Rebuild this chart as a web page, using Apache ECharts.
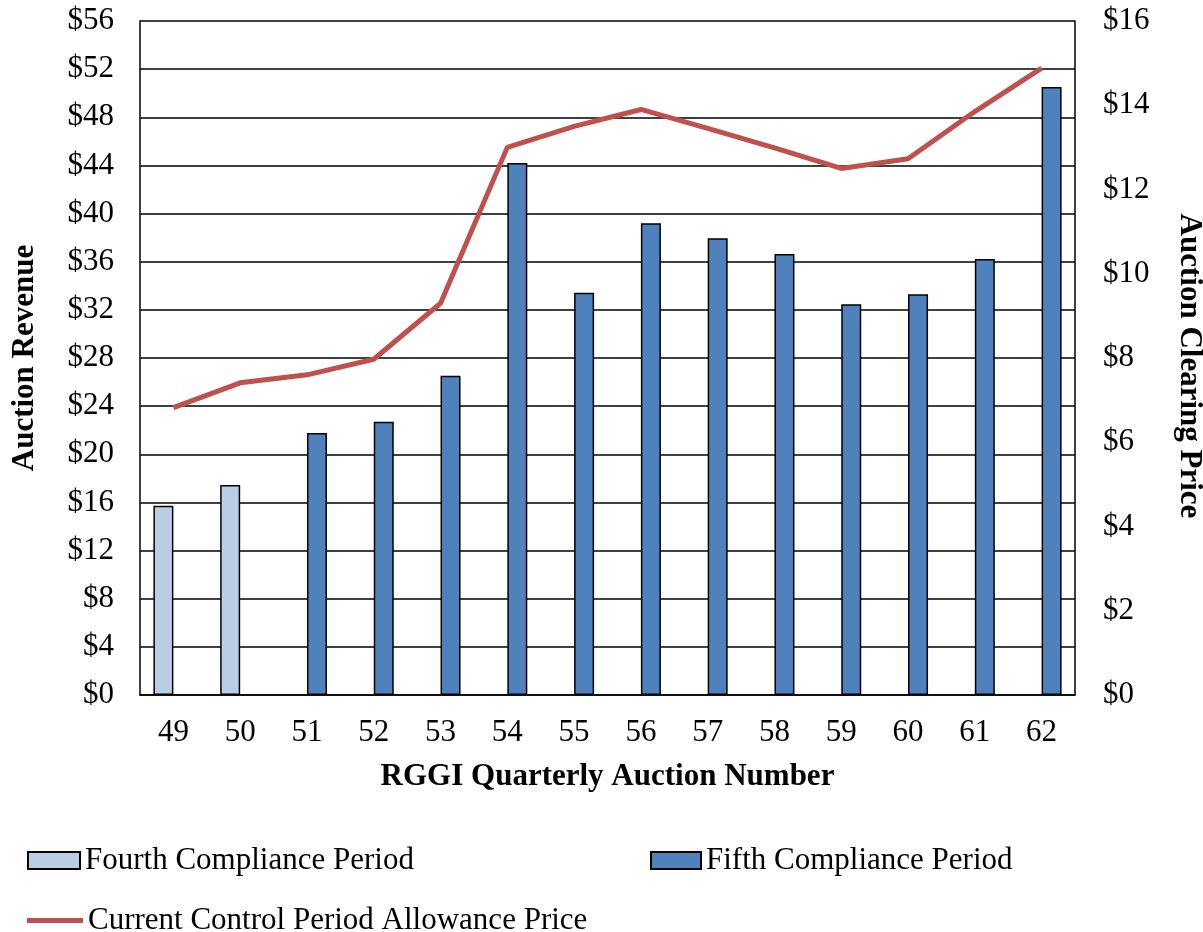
<!DOCTYPE html>
<html>
<head>
    <meta charset="utf-8">
    <title>RGGI Auction Revenue</title>
    <style>
        html, body { margin: 0; padding: 0; background: #fff; }
        #chart { width: 1203px; height: 932px; }
    </style>
</head>
<body>
<div id="chart"></div>
<script src="https://cdn.jsdelivr.net/npm/echarts@6/dist/echarts.min.js"></script>
<script>
    // auction numbers
    let auctions = ['49', '50', '51', '52', '53', '54', '55', '56', '57', '58', '59', '60', '61', '62'];
    // revenue, millions $ (left axis)
    let fourthPeriod = [15.73, 17.45, '-', '-', '-', '-', '-', '-', '-', '-', '-', '-', '-', '-'];
    let fifthPeriod = ['-', '-', 21.77, 22.71, 26.53, 44.2, 33.43, 39.19, 37.94, 36.64, 32.46, 33.29, 36.22, 50.51];
    // clearing price $ (right axis)
    let allowancePrice = [6.82, 7.41, 7.60, 7.97, 9.30, 13.00, 13.50, 13.90, 13.45, 12.99, 12.50, 12.73, 13.85, 14.88];

    let font = 'Liberation Serif, Times New Roman, serif';
    let myChart = echarts.init(document.getElementById('chart'));

    let legendText = {fontFamily: font, fontSize: 31, color: '#000'};
    let titleText = {fontFamily: font, fontSize: 31, fontWeight: 'bold', color: '#000'};

    let option = {
        animation: false,
        grid: {left: 140, right: 128, top: 21, bottom: 237, outerBoundsMode: 'none', containLabel: false},
        legend: [
            {
                data: [{name: 'Fourth Compliance Period', icon: 'rect'}],
                left: 22, top: 840,
                itemWidth: 52, itemHeight: 17, itemGap: 4,
                textStyle: legendText
            },
            {
                data: [{name: 'Fifth Compliance Period', icon: 'rect'}],
                left: 645, top: 840,
                itemWidth: 50, itemHeight: 17,
                textStyle: legendText
            },
            {
                data: [{name: 'Current Control Period Allowance Price', icon: 'rect'}],
                left: 22, top: 900,
                itemWidth: 56, itemHeight: 5,
                textStyle: legendText
            }
        ],
        xAxis: {
            type: 'category',
            data: auctions,
            name: 'RGGI Quarterly Auction Number',
            nameLocation: 'middle',
            nameGap: 66,
            nameTextStyle: titleText,
            axisLine: {lineStyle: {color: '#000', width: 1.5}},
            axisTick: {show: false},
            axisLabel: {fontFamily: font, fontSize: 31, color: '#000', margin: 22}
        },
        yAxis: [
            {
                type: 'value',
                min: 0, max: 56, interval: 4,
                name: 'Auction Revenue',
                nameLocation: 'middle',
                nameGap: 100,
                nameTextStyle: titleText,
                axisLine: {show: true, lineStyle: {color: '#000', width: 1.5}},
                axisTick: {show: false},
                axisLabel: {fontFamily: font, fontSize: 31, color: '#000', margin: 26, formatter: '${value}'},
                splitLine: {lineStyle: {color: '#000', width: 1.5}}
            },
            {
                type: 'value',
                min: 0, max: 16, interval: 2,
                name: 'Auction Clearing Price',
                nameLocation: 'middle',
                nameGap: 99,
                nameRotate: -90,
                nameTextStyle: {
                    fontFamily: font, fontSize: 31, fontWeight: 'bold', color: '#000',
                    padding: [0, 0, 0, 16]
                },
                axisLine: {show: true, lineStyle: {color: '#000', width: 1.5}},
                axisTick: {show: false},
                axisLabel: {fontFamily: font, fontSize: 31, color: '#000', margin: 28, formatter: '${value}'},
                splitLine: {show: false}
            }
        ],
        series: [
            {
                name: 'Fourth Compliance Period',
                type: 'bar',
                barWidth: 20,
                barGap: '0%',
                itemStyle: {color: '#b9cde5', borderColor: '#000', borderWidth: 1.5},
                data: fourthPeriod
            },
            {
                name: 'Fifth Compliance Period',
                type: 'bar',
                barWidth: 20,
                barGap: '0%',
                itemStyle: {color: '#4f81bd', borderColor: '#000', borderWidth: 1.5},
                data: fifthPeriod
            },
            {
                name: 'Current Control Period Allowance Price',
                type: 'line',
                yAxisIndex: 1,
                symbol: 'none',
                lineStyle: {color: '#c0504d', width: 5},
                itemStyle: {color: '#c0504d'},
                data: allowancePrice
            }
        ]
    };

    myChart.setOption(option);
</script>
</body>
</html>
